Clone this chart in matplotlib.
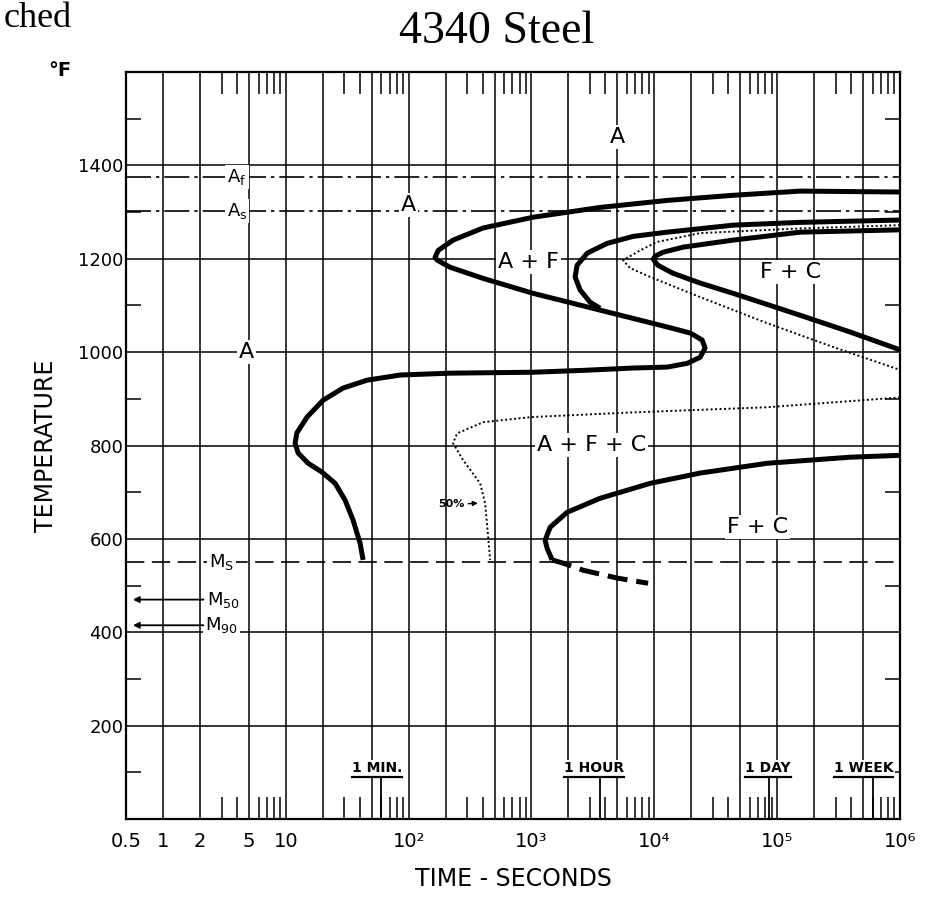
import numpy as np
import matplotlib.pyplot as plt

# Values (time in seconds, temperature in deg F)

# start of transformation (outer thick curve, both noses)
start_t = [42.6, 40.2, 35.3, 30.4, 25.2, 19.7, 15.2, 12.6, 11.9, 12.3, 14.9, 20.1, 29.2, 45.9,
           85, 217, 1030, 2630, 6730, 12700, 18500, 23600, 25900, 24500, 19600, 12700, 3620,
           1030, 404, 217, 171, 164, 174, 230, 404, 1030, 3620, 12700, 43800, 154000, 1e6]
start_T = [555, 591, 640, 683, 719, 743, 762, 784, 805, 827, 861, 897, 923, 940,
           951, 955, 957, 961, 966, 968, 976, 989, 1009, 1026, 1041, 1054, 1090,
           1126, 1158, 1182, 1197, 1203, 1218, 1240, 1266, 1289, 1310, 1325, 1336, 1345, 1343]

# ferrite finish / carbide start (second thick curve)
ferrite_t = [1e6, 154000, 43800, 12700, 6730, 4130, 2840, 2350, 2265, 2490, 3000, 3620]
ferrite_T = [1283, 1278, 1272, 1257, 1248, 1233, 1212, 1186, 1161, 1133, 1107, 1094]

# end of transformation, upper region
finish_t = [1e6, 154000, 43800, 17200, 11800, 10200, 9790, 10700, 14200, 23600, 43800, 154000, 394000, 1e6]
finish_T = [1262, 1257, 1240, 1225, 1214, 1206, 1199, 1186, 1169, 1148, 1126, 1079, 1043, 1005]

# 50 % transformed (dotted)
half_up_t = [1e6, 154000, 23600, 10500, 7670, 5570, 6360, 9250, 23600, 83000, 286000, 1e6]
half_up_T = [1272, 1265, 1255, 1236, 1218, 1197, 1180, 1161, 1118, 1062, 1011, 962]
half_low_t = [1e6, 83000, 6730, 1000, 404, 248, 230, 277, 382, 419, 444, 460]
half_low_T = [903, 882, 871, 861, 850, 826, 805, 769, 719, 677, 604, 555]

# end of transformation, bainite region
bainite_t = [1e6, 394000, 83000, 23600, 9250, 3620, 1950, 1420, 1290, 1340, 1472]
bainite_T = [779, 775, 762, 741, 719, 687, 657, 625, 597, 580, 555]
bainite_ext_t = [1472, 1810, 2630, 5000, 8900]
bainite_ext_T = [555, 548, 533, 516, 505]

# critical temperatures
A_f, A_s = 1375, 1302
M_s, M_50, M_90 = 550, 470, 415

# axis ticks
grid_times = [1, 2, 5, 10, 20, 50, 100, 200, 500, 1e3, 2e3, 5e3, 1e4, 2e4, 5e4, 1e5, 2e5, 5e5]
time_labels = {0.5: '0.5', 1: '1', 2: '2', 5: '5', 10: '10', 100: '10²', 1e3: '10³',
               1e4: '10⁴', 1e5: '10⁵', 1e6: '10⁶'}
temp_ticks = [200, 400, 600, 800, 1000, 1200, 1400]
temp_minor = [100, 300, 500, 700, 900, 1100, 1300, 1500]
markers = [('1 MIN.', 60), ('1 HOUR', 3600), ('1 DAY', 86400), ('1 WEEK', 604800)]

plt.rcParams['font.family'] = 'DejaVu Sans'

fig = plt.figure(figsize=(9.34, 9.05), dpi=100)
ax = fig.add_axes([0.1349, 0.0950, 0.8287, 0.8254])
ax.set_xscale('log')
ax.set_xlim(0.5, 1e6)
ax.set_ylim(0, 1600)

# grid
major_x = [0.5] + grid_times + [1e6]
ax.set_xticks(major_x)
ax.set_xticklabels([time_labels.get(t, '') for t in major_x], fontsize=14)
decades = [10.0 ** k for k in range(0, 6)]
minor_x = [m * d for d in decades for m in (3, 4, 6, 7, 8, 9)]
ax.set_xticks(minor_x, minor=True)
ax.set_xticklabels([], minor=True)
ax.set_yticks(temp_ticks)
ax.set_yticklabels([str(t) for t in temp_ticks], fontsize=13)
ax.set_yticks(temp_minor, minor=True)
ax.tick_params(axis='both', which='major', length=0)
ax.tick_params(axis='x', which='major', pad=9)
ax.tick_params(axis='y', which='major', pad=2)
ax.tick_params(axis='x', which='minor', direction='in', length=16, width=1.1, top=True, bottom=True)
ax.tick_params(axis='y', which='minor', direction='in', length=11, width=1.1, left=True, right=True)
ax.grid(True, which='major', color='black', lw=1.1)
ax.set_axisbelow(True)
for s in ax.spines.values():
    s.set_linewidth(1.6)

# critical temperature lines
ax.axhline(A_f, color='black', lw=1.2, dashes=(15, 3, 2, 3), zorder=1)
ax.axhline(A_s, color='black', lw=1.2, dashes=(15, 3, 2, 3), zorder=1)
ax.axhline(M_s, color='black', lw=1.2, dashes=(11, 4.5), zorder=1)

# transformation curves
ax.plot(start_t, start_T, color='black', lw=3.6, solid_capstyle='butt', zorder=4)
ax.plot(ferrite_t, ferrite_T, color='black', lw=3.6, solid_capstyle='butt', zorder=4)
ax.plot(finish_t, finish_T, color='black', lw=3.6, solid_capstyle='butt', zorder=4)
ax.plot(bainite_t, bainite_T, color='black', lw=3.6, solid_capstyle='butt', zorder=4)
ax.plot(bainite_ext_t, bainite_ext_T, color='black', lw=3.6, dashes=(4, 1.8), zorder=4)
ax.plot(half_up_t, half_up_T, color='black', lw=1.4, ls=(0, (1, 1.3)), zorder=4)
ax.plot(half_low_t, half_low_T, color='black', lw=1.4, ls=(0, (1, 1.3)), zorder=4)

box = dict(facecolor='white', edgecolor='none', pad=1.5)

# region labels
for txt, t, T in [('A', 5000, 1460), ('A', 100, 1315), ('A', 4.8, 1000),
                  ('A + F', 940, 1193), ('F + C', 128000, 1171),
                  ('A + F + C', 3060, 801), ('F + C', 68700, 625)]:
    ax.text(t, T, txt, fontsize=16, ha='center', va='center', bbox=box, zorder=3)

# critical temperature labels
ax.text(4.0, A_f, r'$\mathregular{A_f}$', fontsize=13, ha='center', va='center', bbox=box, zorder=3)
ax.text(4.0, A_s, r'$\mathregular{A_s}$', fontsize=13, ha='center', va='center', bbox=box, zorder=3)
ax.text(3.0, M_s, r'$\mathregular{M_S}$', fontsize=13, ha='center', va='center', bbox=box, zorder=3)
ax.text(2.3, M_50, r'$\mathregular{M_{50}}$', fontsize=13, ha='left', va='center', bbox=box, zorder=3)
ax.text(2.2, M_90, r'$\mathregular{M_{90}}$', fontsize=13, ha='left', va='center', bbox=box, zorder=3)
for T in (M_50, M_90):
    ax.annotate('', xy=(0.54, T), xytext=(2.25, T),
                arrowprops=dict(arrowstyle='-|>', lw=1.3, color='black', mutation_scale=9),
                zorder=3)

# 50% note
ax.text(285, 675, '50%', fontsize=8, fontweight='bold', ha='right', va='center', zorder=3)
ax.annotate('', xy=(385, 677), xytext=(290, 675),
            arrowprops=dict(arrowstyle='-|>', lw=1.0, color='black', mutation_scale=7), zorder=3)

# time markers
offsets = [-3, -4, -1, -7]
marker_texts = []
for (txt, t), dx in zip(markers, offsets):
    m = ax.annotate(txt, xy=(t, 109), xytext=(dx, 0), textcoords='offset points',
                    fontsize=10, fontweight='bold', ha='center', va='center',
                    bbox=dict(facecolor='white', edgecolor='none', pad=1), zorder=3)
    marker_texts.append(m)
    ax.plot([t, t], [0, 90], color='black', lw=1.3, zorder=3)

fig.canvas.draw()
inv = ax.transData.inverted()
for m in marker_texts:
    bb = m.get_window_extent()
    x0 = inv.transform((bb.x0, 0))[0]
    x1 = inv.transform((bb.x1, 0))[0]
    ax.plot([x0, x1], [90, 90], color='black', lw=1.6, zorder=4)

ax.set_xlabel('TIME - SECONDS', fontsize=17, labelpad=12)
ax.set_ylabel('TEMPERATURE', fontsize=17, labelpad=14)

fig.text(60 / 934, 1 - 70 / 905, '°F', fontsize=14, fontweight='bold', ha='center', va='center')
fig.text(497 / 934, 1 - 43 / 905, '4340 Steel', fontsize=33, family='Liberation Serif',
         ha='center', va='baseline')
fig.text(4 / 934, 1 - 27 / 905, 'ched', fontsize=26, family='Liberation Serif',
         ha='left', va='baseline')

fig.savefig('out.png', dpi=100)
